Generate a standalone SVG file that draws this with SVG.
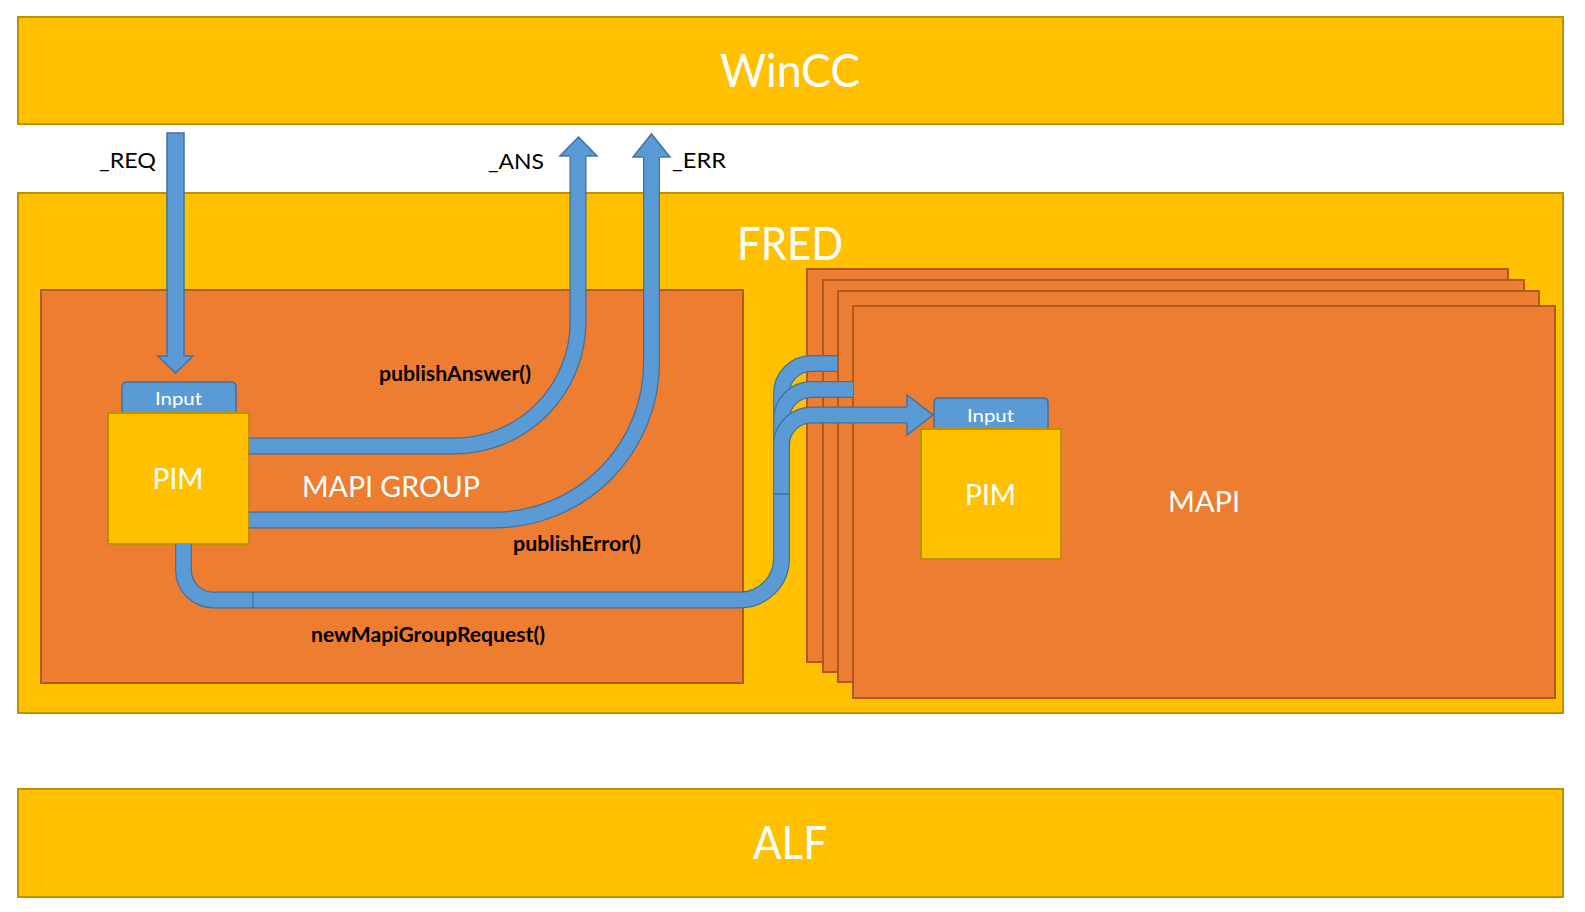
<svg xmlns="http://www.w3.org/2000/svg" xmlns:xlink="http://www.w3.org/1999/xlink" width="1585" height="912" viewBox="0 0 1585 912">
<style>
.ybox{fill:#FFC000;stroke:#BF9000;stroke-width:2}
.obox{fill:#ED7D31;stroke:#AE5A21;stroke-width:2}
.tab{fill:#5B9BD5;stroke:#41719C;stroke-width:1.5}
.po{fill:none;stroke:#41719C;stroke-width:17}
.pi{fill:none;stroke:#5B9BD5;stroke-width:14.5}
.head{fill:#5B9BD5;stroke:#41719C;stroke-width:1.5;stroke-linejoin:miter}
.seam{stroke:#41719C;stroke-width:1.5}
.big{font-family:Lato,"Open Sans",sans-serif;fill:#FFFFFF;font-size:46px}
.mid{font-family:Lato,"Open Sans",sans-serif;fill:#FFFFFF;font-size:28px}
.small{font-family:Lato,"Open Sans",sans-serif;fill:#FFFFFF;font-size:18px}
.lbl{font-family:Lato,"Open Sans",sans-serif;fill:#000000;font-size:22px}
.fn{font-family:Lato,"Open Sans",sans-serif;fill:#000000;font-size:20px;font-weight:bold}
</style>
<defs>
<path id="pAns" d="M 249 446 H 454 A 124 124 0 0 0 578 322 V 156"/>
<path id="pErr" d="M 249 520 H 494 A 157.5 157.5 0 0 0 651.5 362.5 V 157"/>
<path id="pTrunk" d="M 183.5 544 V 570 A 30 30 0 0 0 213.5 600 H 740 A 41.5 41.5 0 0 0 781.5 558.5 V 494"/>
<path id="pB1" d="M 781.5 494 V 393.5 A 30 30 0 0 1 811.5 363.5 H 837"/>
<path id="pB2" d="M 781.5 494 V 419.5 A 30 30 0 0 1 811.5 389.5 H 853"/>
<path id="pB3" d="M 781.5 494 V 445 A 30 30 0 0 1 811.5 415 H 907"/>
</defs>

<g id="wincc">
<rect class="ybox" x="18" y="17" width="1545" height="107"/>
<text class="big" x="790" y="87" text-anchor="middle" textLength="140" lengthAdjust="spacingAndGlyphs">WinCC</text>
</g>

<g id="fred">
<rect class="ybox" x="18" y="193" width="1545" height="520"/>
<text class="big" x="790" y="260" text-anchor="middle" textLength="106" lengthAdjust="spacingAndGlyphs">FRED</text>
</g>

<g id="alf">
<rect class="ybox" x="18" y="789" width="1545" height="108"/>
<text class="big" x="790" y="859" text-anchor="middle" textLength="74" lengthAdjust="spacingAndGlyphs">ALF</text>
</g>

<g id="mapi-group">
<rect class="obox" x="41" y="290" width="702" height="393"/>
<text class="mid" x="302" y="497" textLength="178" lengthAdjust="spacingAndGlyphs">MAPI GROUP</text>
</g>

<g id="mapi-stack">
<rect class="obox" x="807" y="269" width="701" height="393"/>
<rect class="obox" x="823" y="280" width="701" height="392"/>
<rect class="obox" x="838" y="291" width="701" height="391"/>
</g>

<g id="mapi">
<rect class="obox" x="853" y="306" width="702" height="392"/>
<text class="mid" x="1204" y="512" text-anchor="middle" textLength="72" lengthAdjust="spacingAndGlyphs">MAPI</text>
</g>

<g id="pim-group">
<path class="tab" d="M 122 413 V 387 Q 122 382 127 382 H 231 Q 236 382 236 387 V 413 Z"/>
<text class="small" x="178.5" y="405" text-anchor="middle" textLength="47" lengthAdjust="spacingAndGlyphs">Input</text>
<rect class="ybox" x="108" y="413" width="141" height="131"/>
<text class="mid" x="178" y="489" text-anchor="middle" textLength="51" lengthAdjust="spacingAndGlyphs">PIM</text>
</g>

<g id="pim-mapi">
<path class="tab" d="M 934 429 V 403 Q 934 398 939 398 H 1043 Q 1048 398 1048 403 V 429 Z"/>
<text class="small" x="990.5" y="422" text-anchor="middle" textLength="47" lengthAdjust="spacingAndGlyphs">Input</text>
<rect class="ybox" x="921" y="429" width="140" height="130"/>
<text class="mid" x="990.5" y="505" text-anchor="middle" textLength="51" lengthAdjust="spacingAndGlyphs">PIM</text>
</g>

<g id="connectors">
<polygon class="head" points="167,133 184,133 184,356 193,356 175.5,373 158,356 167,356"/>
<use xlink:href="#pAns" class="po"/><use xlink:href="#pAns" class="pi"/>
<path class="head" d="M 569.5 156 H 560 L 578.5 137 L 597 156 H 586.5"/>
<use xlink:href="#pErr" class="po"/><use xlink:href="#pErr" class="pi"/>
<path class="head" d="M 643 157 H 633 L 651.5 134 L 670 157 H 660"/>
<use xlink:href="#pB1" class="po"/><use xlink:href="#pB1" class="pi"/>
<use xlink:href="#pB2" class="po"/><use xlink:href="#pB2" class="pi"/>
<use xlink:href="#pB3" class="po"/><use xlink:href="#pB3" class="pi"/>
<path class="head" d="M 907 407 V 395 L 933 415 L 907 435 V 423"/>
<use xlink:href="#pTrunk" class="po"/><use xlink:href="#pTrunk" class="pi"/>
<line class="seam" x1="253" y1="592" x2="253" y2="608"/>
<line class="seam" x1="773" y1="494" x2="790" y2="494"/>
<text class="lbl" x="99" y="168" textLength="57" lengthAdjust="spacingAndGlyphs">_REQ</text>
<text class="lbl" x="488" y="169" textLength="56" lengthAdjust="spacingAndGlyphs">_ANS</text>
<text class="lbl" x="672" y="168" textLength="54" lengthAdjust="spacingAndGlyphs">_ERR</text>
<text class="fn" x="379" y="381" textLength="152" lengthAdjust="spacingAndGlyphs">publishAnswer()</text>
<text class="fn" x="513" y="551" textLength="128" lengthAdjust="spacingAndGlyphs">publishError()</text>
<text class="fn" x="311" y="642" textLength="234" lengthAdjust="spacingAndGlyphs">newMapiGroupRequest()</text>
</g>
</svg>
